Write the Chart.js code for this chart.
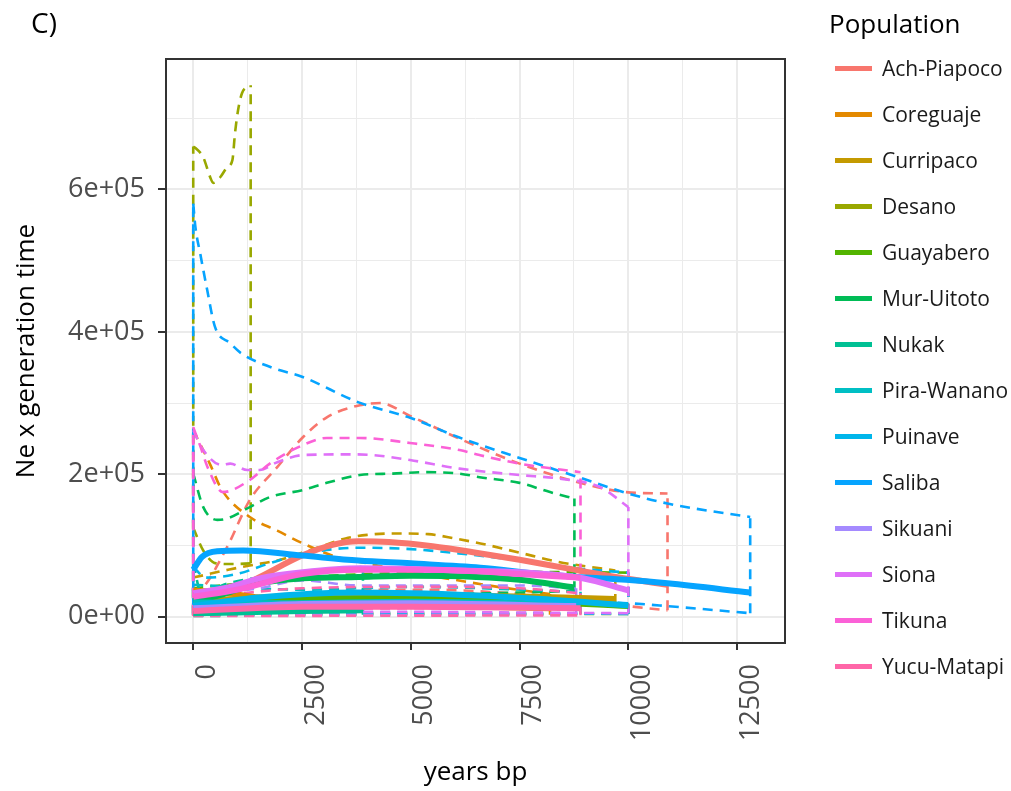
<!DOCTYPE html>
<html>
<head>
<meta charset="utf-8">
<script src="https://cdn.jsdelivr.net/npm/chart.js@4.4.1/dist/chart.umd.min.js"></script>
<style>
  body { margin: 0; background: #ffffff; }
  #wrap { position: relative; width: 1011px; height: 791px; font-family: "Open Sans", sans-serif; overflow: hidden; }
  #panel { position: absolute; left: 0; top: 0; }
  #tag { position: absolute; left: 31px; top: 3px; font-size: 28px; color: #000; line-height: normal; }
  .ltitle { position: absolute; left: 829px; top: 5px; font-size: 26px; color: #000; white-space: nowrap; line-height: normal; }
  .item { position: absolute; left: 835px; height: 30px; display: flex; align-items: center; white-space: nowrap; }
  .sw { width: 37px; height: 5px; margin-right: 10px; }
  .item span { font-size: 21px; color: #1a1a1a; line-height: 30px; }
</style>
</head>
<body>
<div id="wrap">
  <canvas id="panel" width="1011" height="791"></canvas>
  <div id="tag">C)</div>
  <div id="legend"></div>
</div>
<script>
// ---- populations and colours ----
const populations = ['Ach-Piapoco', 'Coreguaje', 'Curripaco', 'Desano', 'Guayabero', 'Mur-Uitoto', 'Nukak',
  'Pira-Wanano', 'Puinave', 'Saliba', 'Sikuani', 'Siona', 'Tikuna', 'Yucu-Matapi'];
const popColors = ['#F8766D', '#E38900', '#C49A00', '#99A800', '#53B400', '#00BC56', '#00C094',
  '#00BFC4', '#00B6EB', '#06A4FF', '#A58AFF', '#DF70F8', '#FB61D7', '#FF66A8'];

// ---- axis ticks ----
const xTickValues = [0, 2500, 5000, 7500, 10000, 12500];
const xTickLabels = ['0', '2500', '5000', '7500', '10000', '12500'];
const xMinorValues = [1250, 3750, 6250, 8750, 11250];
const yTickValues = [0, 200000, 400000, 600000];
const yTickLabels = ['0e+00', '2e+05', '4e+05', '6e+05'];
const yMinorValues = [100000, 300000, 500000, 700000];

// ---- Ne x generation time (median, upper, lower) by years bp ----
// Ach-Piapoco
const achMedYears = [0, 300, 800, 1500, 2500, 3200, 3800, 4500, 5500, 6500, 7500, 8500, 9500, 10900];
const achMed = [25000, 28000, 35000, 55000, 86000, 101000, 106000, 105000, 99000, 90000, 80000, 69000, 58000, 45000];
const achUpYears = [0, 230, 780, 1300, 1930, 2520, 3070, 3830, 4300, 4980, 6120, 7500, 8950, 9950, 10900];
const achUp = [30000, 41000, 98000, 164000, 210000, 252000, 280000, 297000, 300000, 282000, 250000, 215000, 187000, 175000, 173000];
const achLoYears = [0, 800, 1500, 2500, 3500, 4500, 5500, 6500, 7500, 8500, 9500, 10000, 10900];
const achLo = [5000, 12000, 20000, 30000, 36000, 38000, 38000, 36000, 32000, 27000, 20000, 15000, 9000];
// Coreguaje
const corMedYears = [0, 800, 1500, 2500, 4000, 6000, 8200];
const corMed = [37000, 33000, 27000, 22000, 18000, 15000, 12000];
const corUpYears = [0, 380, 660, 1300, 1930, 2520, 3300, 4000, 5000, 6000, 7000, 8200];
const corUp = [262000, 215000, 178000, 140000, 121000, 103000, 84000, 75000, 62000, 52000, 42000, 32000];
const corLoYears = [0, 2000, 4000, 6000, 8200];
const corLo = [4000, 5000, 5000, 4000, 3000];
// Curripaco
const curMedYears = [0, 1000, 2500, 4000, 5500, 7000, 8500, 9700];
const curMed = [22000, 25000, 30000, 32000, 31000, 29000, 27000, 25000];
const curUpYears = [0, 800, 1300, 2000, 2500, 3000, 3500, 4000, 4600, 5400, 6000, 6600, 7500, 8400, 9700];
const curUp = [55000, 66000, 72000, 80000, 90000, 100000, 110000, 115000, 117000, 116000, 110000, 103000, 90000, 77000, 65000];
const curLoYears = [0, 2500, 5000, 7500, 9700];
const curLo = [5000, 12000, 16000, 17000, 18000];
// Desano
const desMedYears = [0, 600, 1320];
const desMed = [12000, 14000, 15000];
const desUpYears = [0, 50, 230, 390, 460, 620, 780, 900, 960, 1030, 1120, 1260, 1320];
const desUp = [660000, 658000, 645000, 617000, 609000, 617000, 631000, 641000, 679000, 711000, 735000, 744000, 746000];
const desLoYears = [0, 230, 530, 900, 1320];
const desLo = [125000, 93000, 75000, 74000, 75000];
// Guayabero
const guaMedYears = [0, 2500, 5000, 7500, 10000];
const guaMed = [15000, 24000, 26000, 22000, 15000];
const guaUpYears = [0, 2500, 5000, 7500, 10000];
const guaUp = [40000, 55000, 62000, 63000, 62000];
const guaLoYears = [0, 5000, 10000];
const guaLo = [2000, 4000, 4000];
// Mur-Uitoto
const murMedYears = [0, 700, 1500, 2500, 3800, 5000, 6500, 7500, 8760];
const murMed = [22000, 32000, 47000, 54000, 56000, 57500, 56000, 52000, 41000];
const murUpYears = [0, 230, 550, 780, 1300, 1760, 2520, 3070, 3830, 4580, 5330, 6120, 6580, 7500, 8200, 8760];
const murUp = [201000, 154000, 136000, 138000, 154000, 168000, 178000, 188000, 199000, 201000, 203000, 201000, 196000, 188000, 175000, 166000];
const murLoYears = [0, 2500, 5000, 7500, 8760];
const murLo = [3000, 20000, 30000, 34000, 36000];
// Nukak
const nukMedYears = [0, 1000, 2500, 3900];
const nukMed = [5000, 6000, 8000, 9000];
const nukUpYears = [0, 200, 700, 1500, 2500, 3900];
const nukUp = [75000, 30000, 45000, 55000, 62000, 70000];
const nukLoYears = [0, 3900];
const nukLo = [1000, 3000];
// Pira-Wanano
const pirMedYears = [0, 2000, 5000, 8900];
const pirMed = [20000, 19000, 21000, 17000];
const pirUpYears = [0, 2500, 5000, 8900];
const pirUp = [45000, 38000, 42000, 35000];
const pirLoYears = [0, 8900];
const pirLo = [3000, 4000];
// Puinave
const puiMedYears = [0, 1500, 3800, 6500, 8000, 10000];
const puiMed = [15000, 27000, 34000, 30000, 25000, 16000];
const puiUpYears = [0, 300, 1000, 1750, 2500, 3800, 5000, 6100, 7500, 8800, 10000];
const puiUp = [70000, 55000, 60000, 75000, 88000, 97000, 95000, 89000, 79000, 68000, 62000];
const puiLoYears = [0, 5000, 10000];
const puiLo = [2000, 6000, 4000];
// Saliba
const salMedYears = [0, 200, 550, 1150, 2500, 3800, 5000, 6600, 8000, 8900, 9950, 10900, 12800];
const salMed = [66000, 84000, 92000, 93000, 86000, 79000, 75000, 69000, 60000, 55500, 52000, 47000, 34000];
const salUpYears = [0, 50, 160, 320, 500, 850, 1100, 1800, 2500, 3800, 5000, 6100, 7500, 8900, 10000, 10900, 12800];
const salUp = [580000, 547000, 510000, 459000, 407000, 384000, 370000, 350000, 337000, 301000, 279000, 252000, 223000, 195000, 173000, 159000, 140000];
const salLoYears = [0, 2500, 5000, 7500, 10000, 10900, 12800];
const salLo = [12000, 22000, 25000, 23000, 19000, 15000, 5000];
// Sikuani
const sikMedYears = [0, 2500, 5000, 8800];
const sikMed = [12000, 18000, 19000, 15000];
const sikUpYears = [0, 1500, 2500, 3800, 6500, 7500, 8800];
const sikUp = [30000, 40000, 51000, 44000, 44000, 44000, 40000];
const sikLoYears = [0, 8800];
const sikLo = [2000, 3000];
// Siona
const sioMedYears = [0, 780, 1530, 2520, 3830, 5000, 6120, 7500, 8950, 10000];
const sioMed = [33000, 41000, 54000, 62500, 68000, 67000, 65000, 62500, 54000, 37000];
const sioUpYears = [0, 230, 660, 850, 1240, 1530, 1930, 2520, 3530, 4130, 4980, 6120, 7500, 8400, 9350, 10000];
const sioUp = [262000, 234000, 213000, 215000, 206000, 206000, 217000, 227000, 228000, 227000, 220000, 208000, 199000, 194000, 182000, 154000];
const sioLoYears = [0, 2500, 5000, 7500, 10000];
const sioLo = [2000, 6000, 7000, 6000, 5000];
// Tikuna
const tikMedYears = [0, 1000, 2500, 3800, 5000, 6500, 7500, 8900];
const tikMed = [28000, 38000, 60000, 66000, 66000, 64000, 60000, 55000];
const tikUpYears = [0, 160, 330, 680, 1300, 1760, 2520, 3070, 3830, 4980, 6120, 6580, 7500, 8900];
const tikUp = [266000, 240000, 210000, 175000, 192000, 215000, 241000, 251000, 251000, 244000, 234000, 227000, 215000, 203000];
const tikLoYears = [0, 2500, 5000, 8900];
const tikLo = [3000, 10000, 12000, 13000];
// Yucu-Matapi
const yucMedYears = [0, 2500, 5000, 7500, 8900];
const yucMed = [8000, 14000, 14000, 13000, 12000];
const yucUpYears = [0, 2500, 5000, 7500, 8900];
const yucUp = [25000, 40000, 42000, 40000, 33000];
const yucLoYears = [0, 8900];
const yucLo = [1000, 2000];

const series = [
  [achMedYears, achMed, achUpYears, achUp, achLoYears, achLo],
  [corMedYears, corMed, corUpYears, corUp, corLoYears, corLo],
  [curMedYears, curMed, curUpYears, curUp, curLoYears, curLo],
  [desMedYears, desMed, desUpYears, desUp, desLoYears, desLo],
  [guaMedYears, guaMed, guaUpYears, guaUp, guaLoYears, guaLo],
  [murMedYears, murMed, murUpYears, murUp, murLoYears, murLo],
  [nukMedYears, nukMed, nukUpYears, nukUp, nukLoYears, nukLo],
  [pirMedYears, pirMed, pirUpYears, pirUp, pirLoYears, pirLo],
  [puiMedYears, puiMed, puiUpYears, puiUp, puiLoYears, puiLo],
  [salMedYears, salMed, salUpYears, salUp, salLoYears, salLo],
  [sikMedYears, sikMed, sikUpYears, sikUp, sikLoYears, sikLo],
  [sioMedYears, sioMed, sioUpYears, sioUp, sioLoYears, sioLo],
  [tikMedYears, tikMed, tikUpYears, tikUp, tikLoYears, tikLo],
  [yucMedYears, yucMed, yucUpYears, yucUp, yucLoYears, yucLo]
];

const toPoints = (xs, ys) => xs.map((x, i) => ({ x: x, y: ys[i] }));

const DASH = [10, 7];
const datasets = [];
// later populations are drawn on top, so push them first
for (let p = populations.length - 1; p >= 0; p--) {
  const [mx, my, ux, uy, lx, ly] = series[p];
  const col = popColors[p];
  datasets.push({
    label: populations[p], data: toPoints(mx, my), borderColor: col, borderWidth: 6,
    order: 0, cubicInterpolationMode: 'monotone'
  });
  const dashed = { borderColor: col, borderWidth: 2.6, borderDash: DASH, order: 1 };
  datasets.push(Object.assign({ label: populations[p] + ' upper', data: toPoints(ux, uy), cubicInterpolationMode: 'monotone' }, dashed));
  datasets.push(Object.assign({ label: populations[p] + ' lower', data: toPoints(lx, ly), cubicInterpolationMode: 'monotone' }, dashed));
  // ribbon outline edges at the start and end of the interval
  const uEnd = ux.length - 1, lEnd = lx.length - 1;
  datasets.push(Object.assign({ label: populations[p] + ' end', data: [{ x: lx[lEnd], y: ly[lEnd] }, { x: ux[uEnd], y: uy[uEnd] }] }, dashed));
  datasets.push(Object.assign({ label: populations[p] + ' start', data: [{ x: lx[0], y: ly[0] }, { x: ux[0], y: uy[0] }] }, dashed));
}

const panelBorder = {
  id: 'panelBorder',
  afterDatasetsDraw(chart) {
    const { ctx, chartArea: a } = chart;
    ctx.save();
    ctx.strokeStyle = '#333333';
    ctx.lineWidth = 2;
    ctx.strokeRect(a.left, a.top, a.right - a.left, a.bottom - a.top);
    ctx.restore();
  }
};

const tickFont = { family: 'Open Sans', size: 27 };
const titleFont = { family: 'Open Sans', size: 26 };

new Chart(document.getElementById('panel'), {
  type: 'scatter',
  data: { datasets: datasets },
  options: {
    responsive: false,
    animation: false,
    devicePixelRatio: 1,
    showLine: true,
    elements: {
      point: { radius: 0, hoverRadius: 0 },
      line: { fill: false, borderJoinStyle: 'round', borderCapStyle: 'butt' }
    },
    layout: { padding: { top: 59, right: 226, left: 0, bottom: 0 } },
    plugins: { legend: { display: false }, tooltip: { enabled: false } },
    scales: {
      x: {
        type: 'linear', min: -626, max: 13600,
        afterBuildTicks: s => { s.ticks = xTickValues.concat(xMinorValues).sort((a, b) => a - b).map(v => ({ value: v })); },
        afterFit: s => { s.height = 148; },
        border: { display: false },
        grid: {
          color: '#EBEBEB',
          lineWidth: c => (xTickValues.includes(c.tick.value) ? 2 : 1),
          tickLength: 7,
          tickColor: c => (xTickValues.includes(c.tick.value) ? '#333333' : 'rgba(0,0,0,0)'),
          tickWidth: 2
        },
        ticks: {
          autoSkip: false, minRotation: 90, maxRotation: 90, labelOffset: 14, padding: 14,
          color: '#4D4D4D', font: tickFont,
          callback: v => { const i = xTickValues.indexOf(v); return i >= 0 ? xTickLabels[i] : ''; }
        },
        title: { display: true, text: 'years bp', color: '#000000', font: titleFont, padding: { top: 0, bottom: 3 } }
      },
      y: {
        type: 'linear', min: -36800, max: 783000,
        afterBuildTicks: s => { s.ticks = yTickValues.concat(yMinorValues).sort((a, b) => a - b).map(v => ({ value: v })); },
        afterFit: s => { s.width = 166; },
        border: { display: false },
        grid: {
          color: '#EBEBEB',
          lineWidth: c => (yTickValues.includes(c.tick.value) ? 2 : 1),
          tickLength: 8,
          tickColor: c => (yTickValues.includes(c.tick.value) ? '#333333' : 'rgba(0,0,0,0)'),
          tickWidth: 2
        },
        ticks: {
          autoSkip: false, padding: 13, color: '#4D4D4D', font: tickFont,
          callback: v => { const i = yTickValues.indexOf(v); return i >= 0 ? yTickLabels[i] : ''; }
        },
        title: { display: true, text: 'Ne x generation time', color: '#000000', font: titleFont, padding: { top: 11, bottom: 0 } }
      }
    }
  },
  plugins: [panelBorder]
});

// legend: one solid swatch per population
const legend = document.getElementById('legend');
const lt = document.createElement('div');
lt.className = 'ltitle';
lt.textContent = 'Population';
legend.appendChild(lt);
populations.forEach((name, i) => {
  const row = document.createElement('div');
  row.className = 'item';
  row.style.top = (68 + 46 * i - 15) + 'px';
  const sw = document.createElement('div');
  sw.className = 'sw';
  sw.style.background = popColors[i];
  const tx = document.createElement('span');
  tx.textContent = name;
  row.appendChild(sw);
  row.appendChild(tx);
  legend.appendChild(row);
});
</script>
</body>
</html>
